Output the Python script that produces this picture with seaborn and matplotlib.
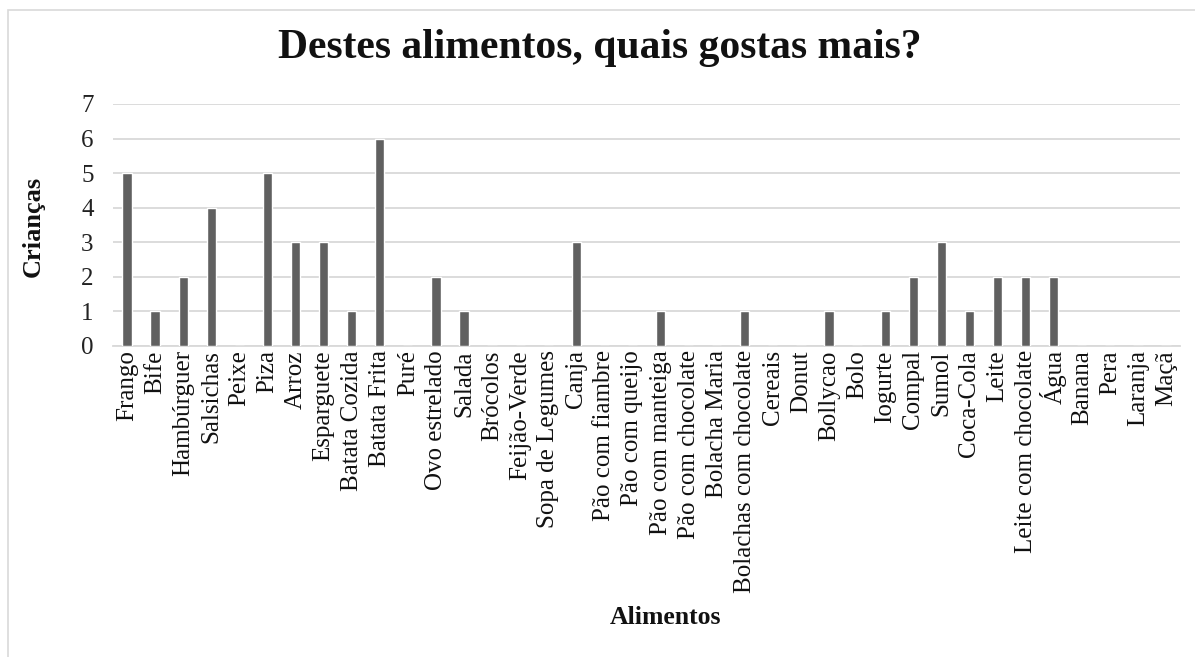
import matplotlib
matplotlib.use("Agg")
import matplotlib.pyplot as plt
import seaborn as sns
import pandas as pd
from matplotlib.patches import Rectangle

categorias = ["Frango", "Bife", "Hambúrguer", "Salsichas", "Peixe", "Piza", "Arroz",
              "Esparguete", "Batata Cozida", "Batata Frita", "Puré", "Ovo estrelado",
              "Salada", "Brócolos", "Feijão-Verde", "Sopa de Legumes", "Canja",
              "Pão com fiambre", "Pão com queijo", "Pão com manteiga", "Pão com chocolate",
              "Bolacha Maria", "Bolachas com chocolate", "Cereais", "Donut", "Bollycao",
              "Bolo", "Iogurte", "Compal", "Sumol", "Coca-Cola", "Leite",
              "Leite com chocolate", "Água", "Banana", "Pera", "Laranja", "Maçã"]
criancas = [5, 1, 2, 4, 0, 5, 3, 3, 1, 6, 0, 2, 1, 0, 0, 0, 3, 0, 0, 1, 0, 0, 1, 0, 0,
            1, 0, 1, 2, 3, 1, 2, 2, 2, 0, 0, 0, 0]
y_ticks = [0, 1, 2, 3, 4, 5, 6, 7]

sns.set_theme(style="white")
plt.rcParams['font.family'] = ['Liberation Serif', 'DejaVu Serif']

df = pd.DataFrame({"Alimentos": categorias, "Crianças": criancas})

fig = plt.figure(figsize=(11.95, 6.57), dpi=100)
ax = fig.add_axes([113/1195, 1 - 346/657, (1180-113)/1195, (346-104)/657])

sns.barplot(data=df, x="Alimentos", y="Crianças", color="#606060", width=0.33,
            saturation=1, ax=ax, zorder=3)

ax.set_ylim(0, 7)
ax.set_yticks(y_ticks)
ax.set_yticklabels([str(v) for v in y_ticks], fontsize=18, color="#222222")
ax.set_xlim(-0.5, len(categorias) - 0.5)
ax.tick_params(axis='x', labelrotation=90, labelsize=18, colors="#111111", pad=3, length=0)
ax.tick_params(axis='y', length=0, pad=14)
for lbl in ax.get_xticklabels():
    lbl.set_verticalalignment('top')

ax.yaxis.grid(True, color="#d9d9d9", linewidth=1.3, zorder=0)
ax.xaxis.grid(False)
for s in ["top", "right", "left"]:
    ax.spines[s].set_visible(False)
ax.spines["bottom"].set_color("#d9d9d9")
ax.spines["bottom"].set_linewidth(1.3)
ax.spines["bottom"].set_zorder(2)

ax.set_xlabel("")
ax.set_ylabel("")
fig.text(666/1195, 1 - 618/657, "Alimentos", fontsize=18.5, fontweight="bold",
         ha="center", va="center", color="#111111")
fig.text(33/1195, 1 - 226/657, "Crianças", fontsize=19, fontweight="bold",
         ha="center", va="center", rotation=90, color="#111111")

fig.text(600/1195, 1 - 48/657, "Destes alimentos, quais gostas mais?", fontsize=30,
         fontweight="bold", ha="center", va="center", color="#111111")

fig.patches.append(Rectangle((8/1195, -0.05), 1.2, 1 - 10/657 + 0.05, transform=fig.transFigure,
                             fill=False, edgecolor="#d9d9d9", linewidth=1.2))

fig.savefig("out.png", dpi=100, facecolor="white")
